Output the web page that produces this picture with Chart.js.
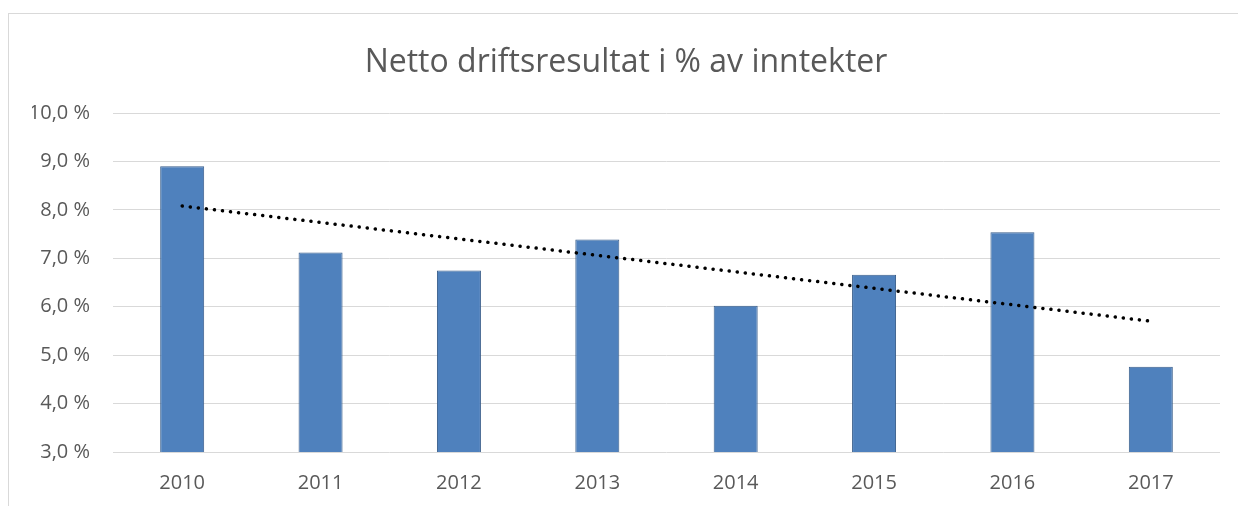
<!DOCTYPE html>
<html>
<head>
<meta charset="utf-8">
<script src="https://cdn.jsdelivr.net/npm/chart.js@4"></script>
<style>
  html, body { margin: 0; padding: 0; background: #fff; overflow: hidden; }
  #frame { position: absolute; left: 8px; top: 13px; width: 1300px; height: 600px; border: 1px solid #d9d9d9; box-sizing: border-box; }
  #wrap { position: absolute; left: 0; top: 0; width: 1238px; height: 506px; }
</style>
</head>
<body>
<div id="frame"></div>
<div id="wrap"><canvas id="c" width="1238" height="506"></canvas></div>
<script>
const categories = ["2010", "2011", "2012", "2013", "2014", "2015", "2016", "2017"];
const resultPct = [8.90, 7.12, 6.75, 7.39, 6.02, 6.66, 7.54, 4.76];
const trendPct = [8.08, null, null, null, null, null, null, 5.70];
const yTicks = [3, 4, 5, 6, 7, 8, 9, 10];
const titleText = "Netto driftsresultat i % av inntekter";

const fmt = v => v.toFixed(1).replace('.', ',') + ' %';

new Chart(document.getElementById('c'), {
  data: {
    labels: categories,
    datasets: [
      {
        type: 'line',
        label: 'Trend',
        data: trendPct,
        spanGaps: true,
        borderColor: '#000000',
        borderWidth: 3.5,
        borderDash: [0.1, 8],
        borderCapStyle: 'round',
        pointRadius: 0,
        fill: false,
        order: 0
      },
      {
        type: 'bar',
        label: 'Netto driftsresultat',
        data: resultPct,
        backgroundColor: '#4F81BD',
        borderColor: '#385D8A',
        borderWidth: 1,
        borderSkipped: 'bottom',
        categoryPercentage: 1,
        barPercentage: 0.318,
        order: 1
      }
    ]
  },
  options: {
    responsive: false,
    animation: false,
    layout: { padding: { left: 32, right: 18, top: 0, bottom: 0 } },
    plugins: {
      legend: { display: false },
      tooltip: { enabled: false },
      title: {
        display: true,
        text: titleText,
        color: '#595959',
        font: { family: 'Open Sans', size: 32, weight: 'normal' },
        padding: { top: 44, bottom: 30.6 }
      }
    },
    scales: {
      x: {
        grid: { display: false, drawTicks: false },
        border: { display: false },
        ticks: {
          color: '#595959',
          font: { family: 'Open Sans', size: 20 },
          padding: 19,
          maxRotation: 0
        },
        afterFit: s => { s.height = 54; }
      },
      y: {
        min: 3,
        max: 10,
        afterBuildTicks: s => { s.ticks = yTicks.map(v => ({ value: v })); },
        grid: { color: '#d9d9d9', lineWidth: 1, drawTicks: false },
        border: { display: false },
        ticks: {
          color: '#595959',
          font: { family: 'Open Sans', size: 20 },
          padding: 23,
          callback: v => fmt(v)
        },
        afterFit: s => { s.width = 81; }
      }
    }
  }
});
</script>
</body>
</html>
